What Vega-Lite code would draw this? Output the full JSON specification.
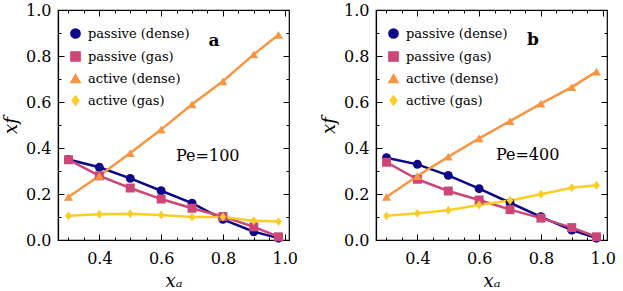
{
  "$schema": "https://vega.github.io/schema/vega-lite/v6.json",
  "padding": {"left": 1, "top": 1, "right": 2, "bottom": 0},
  "datasets": {
    "obs": [
      {"panel": "a", "series": "passive (dense)", "xa": 0.3, "xf": 0.350},
      {"panel": "a", "series": "passive (dense)", "xa": 0.4, "xf": 0.316},
      {"panel": "a", "series": "passive (dense)", "xa": 0.5, "xf": 0.268},
      {"panel": "a", "series": "passive (dense)", "xa": 0.6, "xf": 0.214},
      {"panel": "a", "series": "passive (dense)", "xa": 0.7, "xf": 0.160},
      {"panel": "a", "series": "passive (dense)", "xa": 0.8, "xf": 0.090},
      {"panel": "a", "series": "passive (dense)", "xa": 0.9, "xf": 0.036},
      {"panel": "a", "series": "passive (dense)", "xa": 0.98, "xf": 0.008},
      {"panel": "a", "series": "passive (gas)", "xa": 0.3, "xf": 0.349},
      {"panel": "a", "series": "passive (gas)", "xa": 0.4, "xf": 0.279},
      {"panel": "a", "series": "passive (gas)", "xa": 0.5, "xf": 0.226},
      {"panel": "a", "series": "passive (gas)", "xa": 0.6, "xf": 0.178},
      {"panel": "a", "series": "passive (gas)", "xa": 0.7, "xf": 0.138},
      {"panel": "a", "series": "passive (gas)", "xa": 0.8, "xf": 0.102},
      {"panel": "a", "series": "passive (gas)", "xa": 0.9, "xf": 0.057},
      {"panel": "a", "series": "passive (gas)", "xa": 0.98, "xf": 0.014},
      {"panel": "a", "series": "active (dense)", "xa": 0.3, "xf": 0.187},
      {"panel": "a", "series": "active (dense)", "xa": 0.4, "xf": 0.279},
      {"panel": "a", "series": "active (dense)", "xa": 0.5, "xf": 0.378},
      {"panel": "a", "series": "active (dense)", "xa": 0.6, "xf": 0.480},
      {"panel": "a", "series": "active (dense)", "xa": 0.7, "xf": 0.590},
      {"panel": "a", "series": "active (dense)", "xa": 0.8, "xf": 0.690},
      {"panel": "a", "series": "active (dense)", "xa": 0.9, "xf": 0.807},
      {"panel": "a", "series": "active (dense)", "xa": 0.98, "xf": 0.892},
      {"panel": "a", "series": "active (gas)", "xa": 0.3, "xf": 0.105},
      {"panel": "a", "series": "active (gas)", "xa": 0.4, "xf": 0.112},
      {"panel": "a", "series": "active (gas)", "xa": 0.5, "xf": 0.114},
      {"panel": "a", "series": "active (gas)", "xa": 0.6, "xf": 0.109},
      {"panel": "a", "series": "active (gas)", "xa": 0.7, "xf": 0.100},
      {"panel": "a", "series": "active (gas)", "xa": 0.8, "xf": 0.100},
      {"panel": "a", "series": "active (gas)", "xa": 0.9, "xf": 0.084},
      {"panel": "a", "series": "active (gas)", "xa": 0.98, "xf": 0.080},
      {"panel": "b", "series": "passive (dense)", "xa": 0.3, "xf": 0.358},
      {"panel": "b", "series": "passive (dense)", "xa": 0.4, "xf": 0.329},
      {"panel": "b", "series": "passive (dense)", "xa": 0.5, "xf": 0.281},
      {"panel": "b", "series": "passive (dense)", "xa": 0.6, "xf": 0.223},
      {"panel": "b", "series": "passive (dense)", "xa": 0.7, "xf": 0.162},
      {"panel": "b", "series": "passive (dense)", "xa": 0.8, "xf": 0.101},
      {"panel": "b", "series": "passive (dense)", "xa": 0.9, "xf": 0.043},
      {"panel": "b", "series": "passive (dense)", "xa": 0.98, "xf": 0.008},
      {"panel": "b", "series": "passive (gas)", "xa": 0.3, "xf": 0.338},
      {"panel": "b", "series": "passive (gas)", "xa": 0.4, "xf": 0.264},
      {"panel": "b", "series": "passive (gas)", "xa": 0.5, "xf": 0.213},
      {"panel": "b", "series": "passive (gas)", "xa": 0.6, "xf": 0.174},
      {"panel": "b", "series": "passive (gas)", "xa": 0.7, "xf": 0.132},
      {"panel": "b", "series": "passive (gas)", "xa": 0.8, "xf": 0.095},
      {"panel": "b", "series": "passive (gas)", "xa": 0.9, "xf": 0.054},
      {"panel": "b", "series": "passive (gas)", "xa": 0.98, "xf": 0.014},
      {"panel": "b", "series": "active (dense)", "xa": 0.3, "xf": 0.187},
      {"panel": "b", "series": "active (dense)", "xa": 0.4, "xf": 0.278},
      {"panel": "b", "series": "active (dense)", "xa": 0.5, "xf": 0.362},
      {"panel": "b", "series": "active (dense)", "xa": 0.6, "xf": 0.442},
      {"panel": "b", "series": "active (dense)", "xa": 0.7, "xf": 0.517},
      {"panel": "b", "series": "active (dense)", "xa": 0.8, "xf": 0.593},
      {"panel": "b", "series": "active (dense)", "xa": 0.9, "xf": 0.665},
      {"panel": "b", "series": "active (dense)", "xa": 0.98, "xf": 0.732},
      {"panel": "b", "series": "active (gas)", "xa": 0.3, "xf": 0.105},
      {"panel": "b", "series": "active (gas)", "xa": 0.4, "xf": 0.116},
      {"panel": "b", "series": "active (gas)", "xa": 0.5, "xf": 0.129},
      {"panel": "b", "series": "active (gas)", "xa": 0.6, "xf": 0.152},
      {"panel": "b", "series": "active (gas)", "xa": 0.7, "xf": 0.172},
      {"panel": "b", "series": "active (gas)", "xa": 0.8, "xf": 0.199},
      {"panel": "b", "series": "active (gas)", "xa": 0.9, "xf": 0.227},
      {"panel": "b", "series": "active (gas)", "xa": 0.98, "xf": 0.238}
    ]
  },
  "spacing": 21,
  "resolve": {"legend": {"color": "independent", "shape": "independent"}},
  "hconcat": [
    {
      "width": 231,
      "height": 230,
      "resolve": {"axis": {"x": "independent", "y": "independent"}},
      "layer": [
        {
          "data": {"name": "obs"},
          "transform": [{"filter": "datum.panel == 'a'"}],
          "mark": {"type": "line", "strokeWidth": 2.5},
          "encoding": {
            "x": {"field": "xa", "type": "quantitative", "scale": {"domain": [0.266, 1.014], "nice": false, "zero": false},
              "axis": {"orient": "bottom", "title": "xₐ", "values": [0.3,0.35,0.4,0.45,0.5,0.55,0.6,0.65,0.7,0.75,0.8,0.85,0.9,0.95,1.0],
                "labelExpr": "abs(datum.value*5 - round(datum.value*5)) < 0.001 ? format(datum.value, '.1f') : ''",
                "tickSize": {"condition": {"test": "abs(datum.value*5 - round(datum.value*5)) < 0.001", "value": -6}, "value": -3},
                "labelPadding": 16, "titlePadding": 3, "labelFlush": false, "labelOverlap": false}},
            "y": {"field": "xf", "type": "quantitative", "scale": {"domain": [0, 1], "nice": false},
              "axis": {"orient": "left", "title": "xf", "values": [0,0.1,0.2,0.3,0.4,0.5,0.6,0.7,0.8,0.9,1.0],
                "labelExpr": "abs(datum.value*5 - round(datum.value*5)) < 0.001 ? format(datum.value, '.1f') : ''",
                "tickSize": {"condition": {"test": "abs(datum.value*5 - round(datum.value*5)) < 0.001", "value": -6}, "value": -3},
                "labelPadding": 13, "titlePadding": 5, "labelFlush": false, "labelOverlap": false}},
            "color": {"field": "series", "type": "nominal",
              "scale": {"domain": ["passive (dense)", "passive (gas)", "active (dense)", "active (gas)"], "range": ["#0d0887", "#cc4778", "#f89540", "#fcce25"]}}
          }
        },
        {
          "data": {"name": "obs"},
          "transform": [{"filter": "datum.panel == 'a'"}],
          "mark": {"type": "point", "filled": true, "size": 80, "opacity": 1},
          "encoding": {
            "x": {"field": "xa", "type": "quantitative",
              "axis": {"orient": "top", "title": null, "labels": false, "domain": false, "values": [0.3,0.35,0.4,0.45,0.5,0.55,0.6,0.65,0.7,0.75,0.8,0.85,0.9,0.95,1.0],
                "tickSize": {"condition": {"test": "abs(datum.value*5 - round(datum.value*5)) < 0.001", "value": -6}, "value": -3}}},
            "y": {"field": "xf", "type": "quantitative",
              "axis": {"orient": "right", "title": null, "labels": false, "domain": false, "values": [0,0.1,0.2,0.3,0.4,0.5,0.6,0.7,0.8,0.9,1.0],
                "tickSize": {"condition": {"test": "abs(datum.value*5 - round(datum.value*5)) < 0.001", "value": -6}, "value": -3}}},
            "color": {"field": "series", "type": "nominal",
              "legend": {"orient": "top-left", "title": " ", "titleFontSize": 5, "titlePadding": 1, "offset": 11, "padding": 0, "symbolSize": 85, "labelFontSize": 13, "labelOffset": 6, "rowPadding": 6}},
            "shape": {"field": "series", "type": "nominal",
              "scale": {"domain": ["passive (dense)", "passive (gas)", "active (dense)", "active (gas)"], "range": ["circle", "square", "triangle-up", "M0,-1L0.75,0L0,1L-0.75,0Z"]}}
          }
        },
        {
          "data": {"values": [{"label": "a"}]},
          "mark": {"type": "text", "fontWeight": "bold", "fontSize": 17, "color": "black"},
          "encoding": {"x": {"datum": 0.771, "type": "quantitative", "axis": null}, "y": {"datum": 0.865, "type": "quantitative", "axis": null}, "text": {"field": "label"}}
        },
        {
          "data": {"values": [{"label": "Pe=100"}]},
          "mark": {"type": "text", "fontSize": 16, "color": "black"},
          "encoding": {"x": {"datum": 0.751, "type": "quantitative", "axis": null}, "y": {"datum": 0.365, "type": "quantitative", "axis": null}, "text": {"field": "label"}}
        }
      ]
    },
    {
      "width": 231,
      "height": 230,
      "resolve": {"axis": {"x": "independent", "y": "independent"}},
      "layer": [
        {
          "data": {"name": "obs"},
          "transform": [{"filter": "datum.panel == 'b'"}],
          "mark": {"type": "line", "strokeWidth": 2.5},
          "encoding": {
            "x": {"field": "xa", "type": "quantitative", "scale": {"domain": [0.266, 1.014], "nice": false, "zero": false},
              "axis": {"orient": "bottom", "title": "xₐ", "values": [0.3,0.35,0.4,0.45,0.5,0.55,0.6,0.65,0.7,0.75,0.8,0.85,0.9,0.95,1.0],
                "labelExpr": "abs(datum.value*5 - round(datum.value*5)) < 0.001 ? format(datum.value, '.1f') : ''",
                "tickSize": {"condition": {"test": "abs(datum.value*5 - round(datum.value*5)) < 0.001", "value": -6}, "value": -3},
                "labelPadding": 16, "titlePadding": 3, "labelFlush": false, "labelOverlap": false}},
            "y": {"field": "xf", "type": "quantitative", "scale": {"domain": [0, 1], "nice": false},
              "axis": {"orient": "left", "title": "xf", "values": [0,0.1,0.2,0.3,0.4,0.5,0.6,0.7,0.8,0.9,1.0],
                "labelExpr": "abs(datum.value*5 - round(datum.value*5)) < 0.001 ? format(datum.value, '.1f') : ''",
                "tickSize": {"condition": {"test": "abs(datum.value*5 - round(datum.value*5)) < 0.001", "value": -6}, "value": -3},
                "labelPadding": 13, "titlePadding": 5, "labelFlush": false, "labelOverlap": false}},
            "color": {"field": "series", "type": "nominal",
              "scale": {"domain": ["passive (dense)", "passive (gas)", "active (dense)", "active (gas)"], "range": ["#0d0887", "#cc4778", "#f89540", "#fcce25"]}}
          }
        },
        {
          "data": {"name": "obs"},
          "transform": [{"filter": "datum.panel == 'b'"}],
          "mark": {"type": "point", "filled": true, "size": 80, "opacity": 1},
          "encoding": {
            "x": {"field": "xa", "type": "quantitative",
              "axis": {"orient": "top", "title": null, "labels": false, "domain": false, "values": [0.3,0.35,0.4,0.45,0.5,0.55,0.6,0.65,0.7,0.75,0.8,0.85,0.9,0.95,1.0],
                "tickSize": {"condition": {"test": "abs(datum.value*5 - round(datum.value*5)) < 0.001", "value": -6}, "value": -3}}},
            "y": {"field": "xf", "type": "quantitative",
              "axis": {"orient": "right", "title": null, "labels": false, "domain": false, "values": [0,0.1,0.2,0.3,0.4,0.5,0.6,0.7,0.8,0.9,1.0],
                "tickSize": {"condition": {"test": "abs(datum.value*5 - round(datum.value*5)) < 0.001", "value": -6}, "value": -3}}},
            "color": {"field": "series", "type": "nominal",
              "legend": {"orient": "top-left", "title": " ", "titleFontSize": 5, "titlePadding": 1, "offset": 11, "padding": 0, "symbolSize": 85, "labelFontSize": 13, "labelOffset": 6, "rowPadding": 6}},
            "shape": {"field": "series", "type": "nominal",
              "scale": {"domain": ["passive (dense)", "passive (gas)", "active (dense)", "active (gas)"], "range": ["circle", "square", "triangle-up", "M0,-1L0.75,0L0,1L-0.75,0Z"]}}
          }
        },
        {
          "data": {"values": [{"label": "b"}]},
          "mark": {"type": "text", "fontWeight": "bold", "fontSize": 17, "color": "black"},
          "encoding": {"x": {"datum": 0.774, "type": "quantitative", "axis": null}, "y": {"datum": 0.87, "type": "quantitative", "axis": null}, "text": {"field": "label"}}
        },
        {
          "data": {"values": [{"label": "Pe=400"}]},
          "mark": {"type": "text", "fontSize": 16, "color": "black"},
          "encoding": {"x": {"datum": 0.757, "type": "quantitative", "axis": null}, "y": {"datum": 0.37, "type": "quantitative", "axis": null}, "text": {"field": "label"}}
        }
      ]
    }
  ],
  "config": {
    "font": "DejaVu Serif",
    "background": "white",
    "view": {"stroke": "black", "strokeWidth": 1.2},
    "axis": {"grid": false, "domainColor": "black", "domainWidth": 1.2, "tickColor": "black", "tickWidth": 1, "labelColor": "black", "titleColor": "black",
      "labelFont": "DejaVu Serif", "titleFont": "DejaVu Serif", "labelFontSize": 16, "titleFontSize": 18, "titleFontStyle": "italic", "titleFontWeight": "normal"},
    "legend": {"labelFont": "DejaVu Serif", "labelColor": "black"},
    "text": {"font": "DejaVu Serif"}
  }
}
